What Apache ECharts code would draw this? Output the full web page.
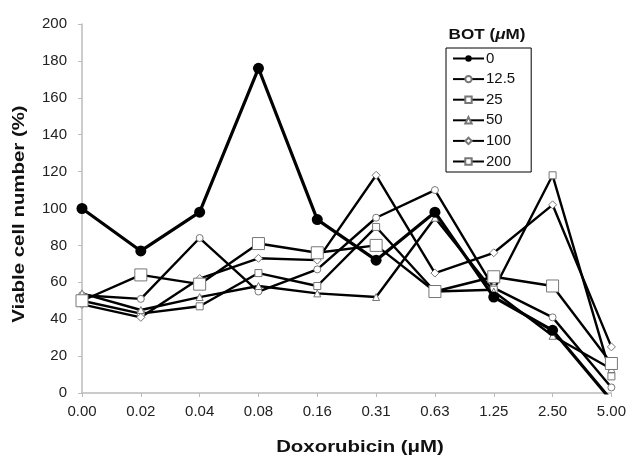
<!DOCTYPE html>
<html><head><meta charset="utf-8">
<script src="https://cdn.jsdelivr.net/npm/echarts@6/dist/echarts.min.js"></script>
<style>html,body{margin:0;padding:0;background:#fff}#c{width:629px;height:458px}</style>
</head><body><div id="c"></div>
<script>
var categories = ['0.00','0.02','0.04','0.08','0.16','0.31','0.63','1.25','2.50','5.00'];
var s0    = [100, 77, 98, 176, 94, 72, 98, 52, 34, -4];
var s12_5 = [53, 51, 84, 55, 67, 95, 110, 57, 41, 3];
var s25   = [50, 43, 47, 65, 58, 90, 55, 56, 118, 9];
var s50   = [54, 45, 52, 58, 54, 52, 95, 55, 31, 13];
var s100  = [48, 41, 62, 73, 72, 118, 65, 76, 102, 25];
var s200  = [50, 64, 59, 81, 76, 80, 55, 63, 58, 16];
var legendNames = ['0','12.5','25','50','100','200'];
var yTicks = {min:0, max:200, interval:20};
var xTitle = 'Doxorubicin (\u03bcM)';
var yTitle = 'Viable cell number (%)';

var font = 'Liberation Sans, Arial, Helvetica, sans-serif';
function openSeries(name, data, symbol, size){
  return {name:name, type:'line', data:data, symbol:symbol, symbolSize:size,
    showAllSymbol:true, clip:true,
    lineStyle:{color:'#000', width:2.4},
    itemStyle:{color:'#fff', borderColor:'#777', borderWidth:1}, z:2};
}
var chart = echarts.init(document.getElementById('c'));
chart.setOption({
  animation:false,
  backgroundColor:'#fff',
  graphic:[
    {type:'text', x:487, y:35, scaleX:1.14, originX:0, originY:0,
     style:{text:'{b|BOT (}{i|\u03bc}{b|M)}', x:0, y:0, align:'center', verticalAlign:'middle',
       rich:{
         b:{fontFamily:font, fontWeight:'bold', fontSize:15, fill:'#111'},
         i:{fontFamily:font, fontWeight:'bold', fontStyle:'italic', fontSize:15, fill:'#111'}
       }}},
    {type:'text', x:360, y:447, scaleX:1.2,
     style:{text:xTitle, align:'center', verticalAlign:'middle',
       font:'bold 17px ' + font, fill:'#111'}},
    {type:'text', x:19, y:214, rotation:Math.PI/2, scaleX:1.2,
     style:{text:yTitle, align:'center', verticalAlign:'middle',
       font:'bold 17px ' + font, fill:'#111'}}
  ],
  legend:{
    data:legendNames, orient:'vertical', left:446, top:48,
    borderColor:'#000', borderWidth:1, padding:[3,16,3,6],
    itemWidth:31, itemHeight:8, itemGap:5.6,
    textStyle:{fontFamily:font, fontSize:15, color:'#111', padding:[0,0,0,-3]}
  },
  grid:{left:82, right:17, top:24, bottom:65},
  xAxis:{
    type:'category', data:categories, boundaryGap:false,
    axisLine:{lineStyle:{color:'#bbb', width:1.5}},
    axisTick:{show:true, alignWithLabel:true, length:4, lineStyle:{color:'#bbb'}},
    axisLabel:{fontFamily:font, fontSize:15, color:'#222', margin:11},
    splitLine:{show:false}
  },
  yAxis:{
    type:'value', min:yTicks.min, max:yTicks.max, interval:yTicks.interval,
    axisLine:{show:true, lineStyle:{color:'#bbb', width:1.5}},
    axisTick:{show:true, length:4, lineStyle:{color:'#bbb'}},
    axisLabel:{fontFamily:font, fontSize:15, color:'#222', margin:15},
    splitLine:{show:false}
  },
  series:[
    {name:'0', type:'line', data:s0, symbol:'circle', symbolSize:11, clip:true,
     lineStyle:{color:'#000', width:3.2}, itemStyle:{color:'#000'}, z:3},
    openSeries('12.5', s12_5, 'circle', 7),
    openSeries('25', s25, 'rect', 7),
    openSeries('50', s50, 'triangle', 7),
    openSeries('100', s100, 'diamond', 8),
    openSeries('200', s200, 'rect', 12)
  ]
});
</script></body></html>
